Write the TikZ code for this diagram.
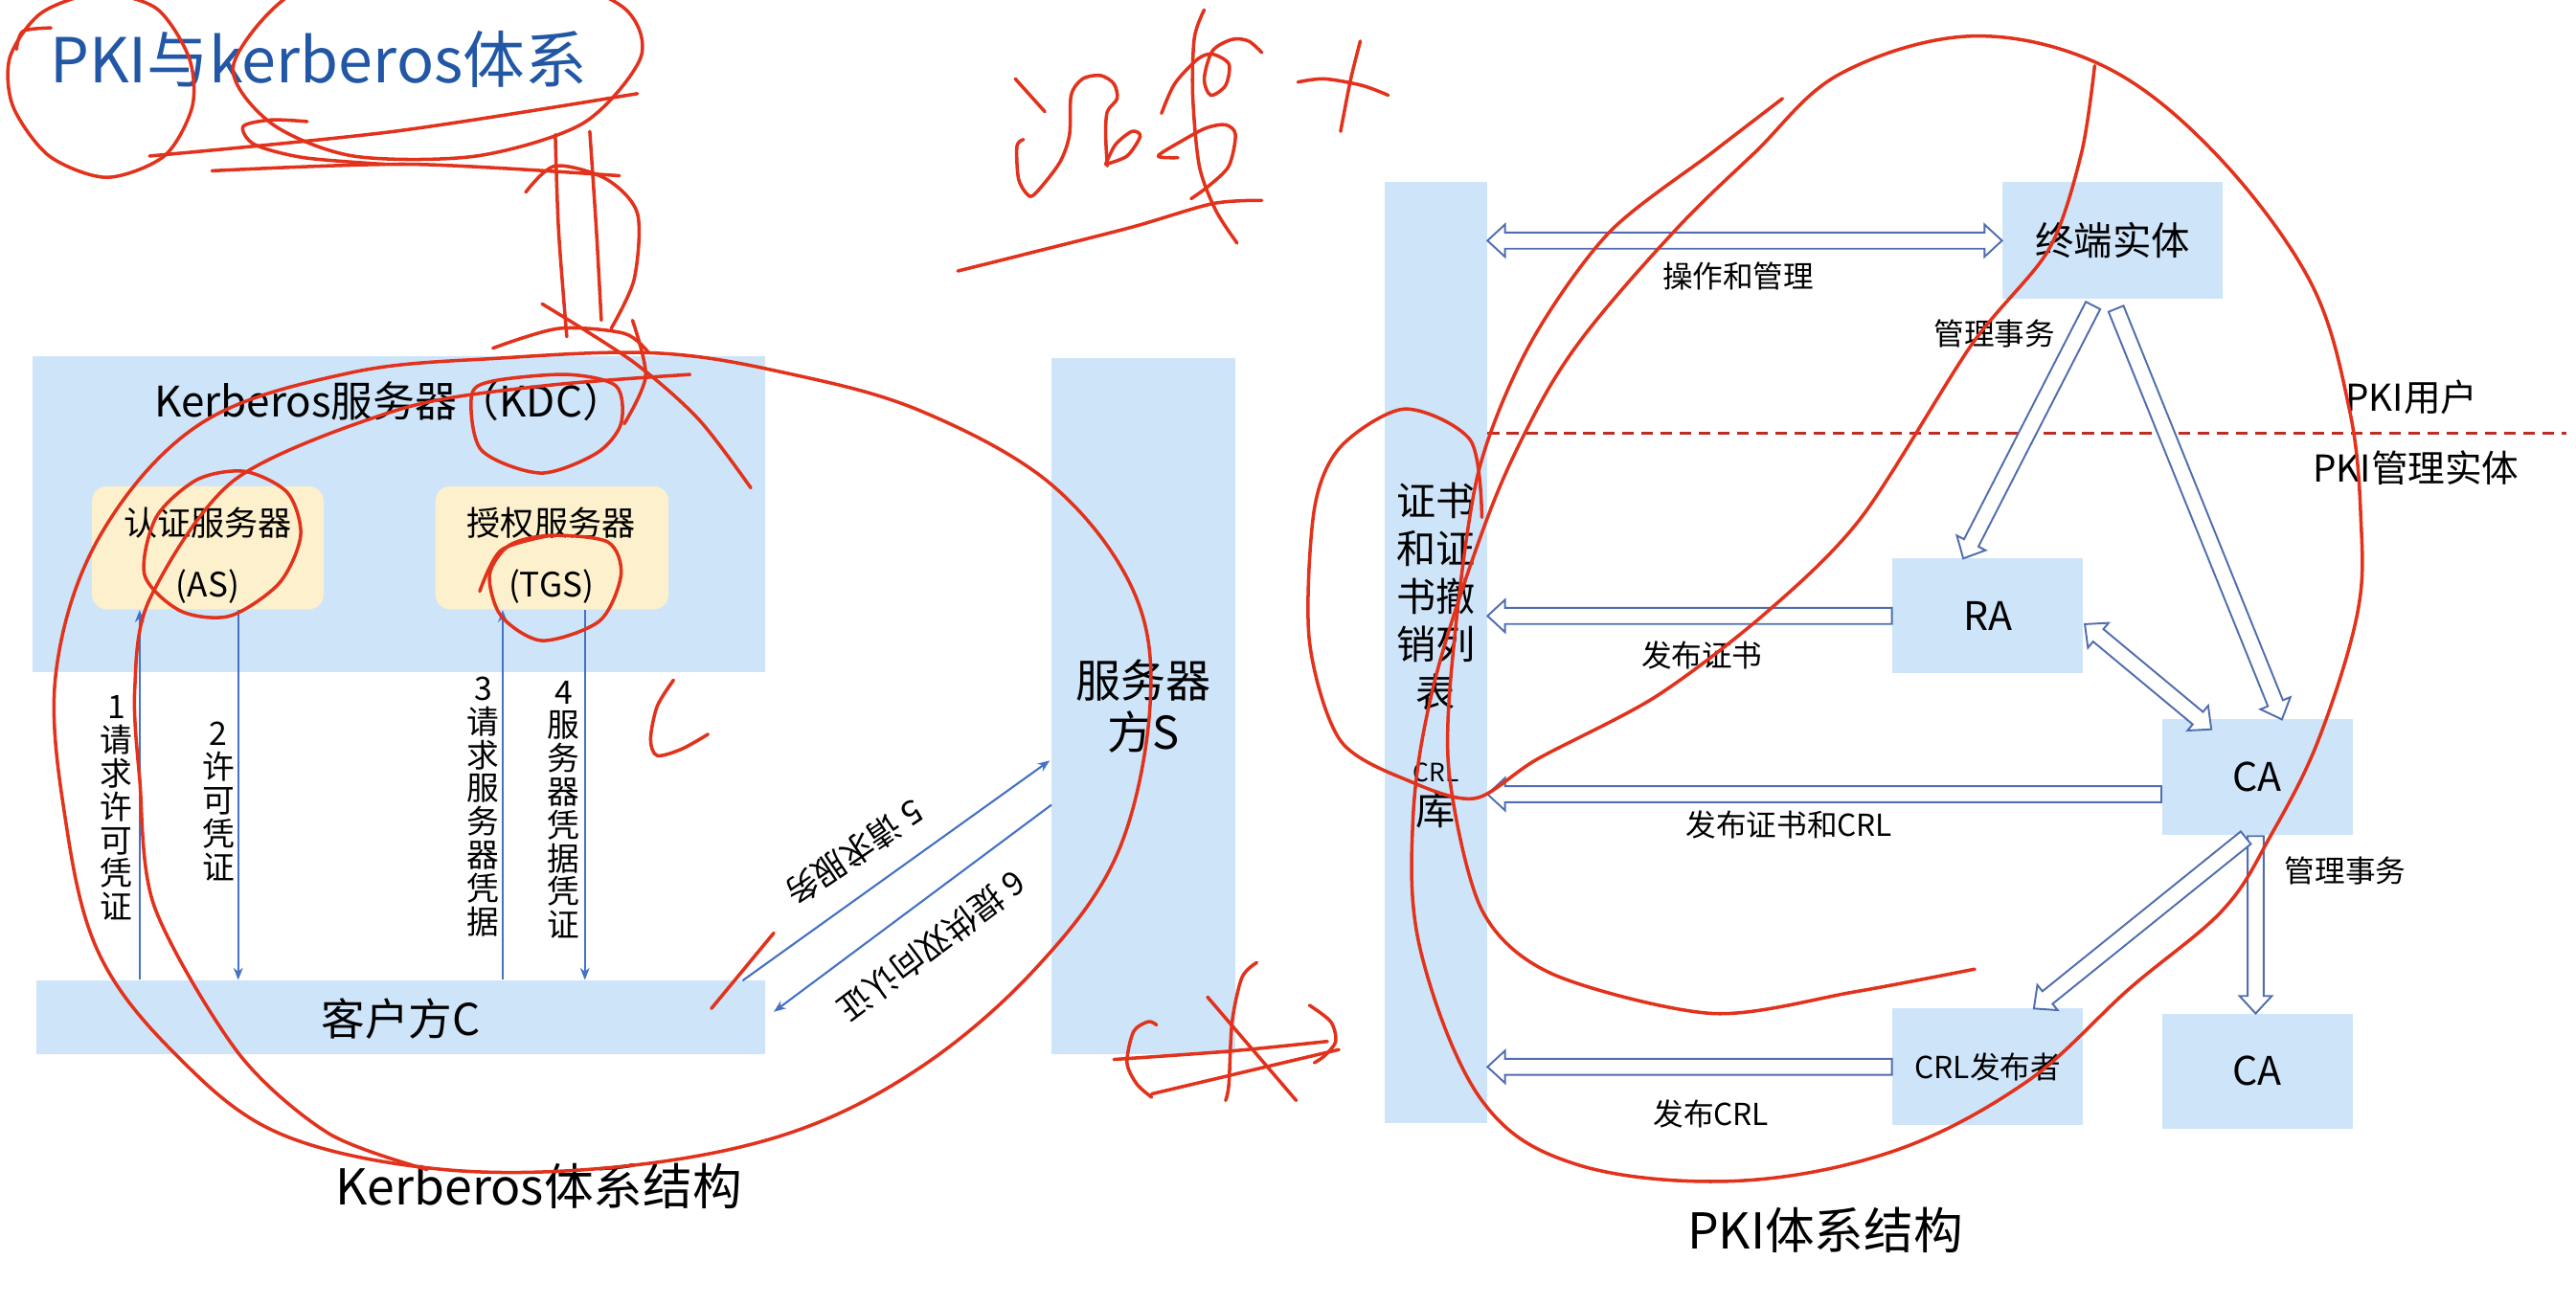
\documentclass[tikz,border=0pt]{standalone}
\usepackage{fontspec}
\setmainfont{Noto Sans CJK SC}
\usetikzlibrary{calc,fit,arrows.meta}
\definecolor{boxblue}{RGB}{206,228,249}
\definecolor{boxyellow}{RGB}{253,241,205}
\definecolor{lineblue}{RGB}{68,114,196}
\definecolor{hollowblue}{RGB}{80,110,175}
\definecolor{titleblue}{RGB}{33,87,165}
\definecolor{penred}{RGB}{226,50,28}
\definecolor{dashred}{RGB}{190,45,35}
\newcommand{\fsz}[2]{\fontsize{#1pt}{#2pt}\selectfont}
\def\baSW{2.4pt}\def\baHW{4.8pt}\def\baHL{5.2pt}
\newcommand{\barrow}[2]{%
  \coordinate (ba-n) at ($(#2)!\baHL!(#1)$);
  \filldraw[hollow] ($(#1)!\baSW!90:(#2)$) -- ($(ba-n)!\baSW!90:(#2)$) -- ($(ba-n)!\baHW!90:(#2)$) -- (#2) -- ($(ba-n)!\baHW!-90:(#2)$) -- ($(ba-n)!\baSW!-90:(#2)$) -- ($(#1)!\baSW!-90:(#2)$) -- cycle;}
\newcommand{\dbarrow}[2]{%
  \coordinate (ba-n) at ($(#2)!\baHL!(#1)$);
  \coordinate (ba-m) at ($(#1)!\baHL!(#2)$);
  \filldraw[hollow] (#1) -- ($(ba-m)!\baHW!90:(#2)$) -- ($(ba-m)!\baSW!90:(#2)$) -- ($(ba-n)!\baSW!90:(#2)$) -- ($(ba-n)!\baHW!90:(#2)$) -- (#2) -- ($(ba-n)!\baHW!-90:(#2)$) -- ($(ba-n)!\baSW!-90:(#2)$) -- ($(ba-m)!\baSW!-90:(#2)$) -- ($(ba-m)!\baHW!-90:(#2)$) -- cycle;}
\tikzset{
  bluebox/.style={fill=boxblue, draw=none, inner sep=0pt},
  ybox/.style={fill=boxyellow, draw=none, rounded corners=4.5pt, inner sep=0pt},
  hollow/.style={draw=hollowblue, fill=white, line width=0.55pt, line join=miter},
  thinarr/.style={draw=lineblue, line width=0.6pt, -{Stealth[length=3.6pt,width=2.8pt]}},
  redpen/.style={draw=penred, line width=1pt, line cap=round, line join=round},
  txt/.style={inner sep=0pt, align=center},
  lbl/.style={inner sep=0pt, font=\fsz{9}{11}},
  vlbl/.style={inner sep=0pt, align=center, font=\fsz{9.6}{9.9}},
  dashline/.style={draw=dashred, line width=0.85pt, dash pattern=on 3.5pt off 2.2pt},
}
\begin{document}
\begin{tikzpicture}[x=0.171556mm, y=-0.171556mm]
\fill[white] (0,0) rectangle (1568,794);
\path[use as bounding box] (0,0) rectangle (1568,794);

% ---------------- title
\node[anchor=west, inner sep=0pt, text=titleblue, font=\fsz{18.4}{20}] (title) at (30,36) {PKI与kerberos体系};

% ---------------- Kerberos
\node[bluebox, fit={(20,217) (466,409)}] (kdc) {};
\node[txt, font=\fsz{12.5}{14}] (kdct) at (237,244) {Kerberos服务器（KDC）};
\node[ybox, fit={(56,296) (197,371)}] (as) {};
\node[txt, font=\fsz{10}{18.3}] (ast) at (126.5,338) {认证服务器\\(AS)};
\node[ybox, fit={(265,296) (407,371)}] (tgs) {};
\node[txt, font=\fsz{10}{18.3}] (tgst) at (335.5,338) {授权服务器\\(TGS)};
\node[bluebox, fit={(22,597) (466,642)}] (client) {};
\node[txt, font=\fsz{13}{15}] (clientt) at (244,620) {客户方C};
\node[bluebox, fit={(640,218) (752,642)}] (server) {};
\node[txt, font=\fsz{13.4}{15.6}] (servert) at (696,430) {服务器\\方S};

\coordinate (x1) at (85,0);
\coordinate (x2) at (145,0);
\coordinate (x3) at (306,0);
\coordinate (x4) at (356,0);
\draw[thinarr] (x1 |- client.north) -- (x1 |- as.south);
\draw[thinarr] (x2 |- as.south) -- (x2 |- client.north);
\draw[thinarr] (x3 |- client.north) -- (x3 |- tgs.south);
\draw[thinarr] (x4 |- tgs.south) -- (x4 |- client.north);
\coordinate (c5) at (452,597);
\coordinate (s5) at (639,463);
\coordinate (s6) at (640,490);
\coordinate (c6) at (471,616);
\draw[thinarr] (c5) -- (s5);
\draw[thinarr] (s6) -- (c6);

\node[vlbl] (l1) at (71,492) {1\\请\\求\\许\\可\\凭\\证};
\node[vlbl] (l2) at (133,488) {2\\许\\可\\凭\\证};
\node[vlbl] (l3) at (294,491) {3\\请\\求\\服\\务\\器\\凭\\据};
\node[vlbl] (l4) at (343,493) {4\\服\\务\\器\\凭\\据\\凭\\证};
\node[lbl, font=\fsz{9.8}{11}, rotate=214] (l5) at (520,519) {5 请求服务};
\node[lbl, font=\fsz{9.8}{11}, rotate=217] (l6) at (567,576) {6 提供双向认证};

\node[txt, font=\fsz{14.7}{16}] (capk) at (328,722) {Kerberos体系结构};

% ---------------- PKI
\node[bluebox, fit={(843,111) (905,684)}] (bar) {};
\node[txt, font=\fsz{11.7}{14.2}] (bart) at (874,399) {证书\\和证\\书撤\\销列\\表\\[8pt]{\fsz{7.5}{9}CRL}\\[-1.5pt]库};
\node[bluebox, fit={(1219,111) (1353,182)}] (eu) {};
\node[txt, font=\fsz{11.5}{14}] (eut) at (eu.center) {终端实体};
\node[bluebox, fit={(1152,340) (1268,410)}] (ra) {};
\node[txt, font=\fsz{11.7}{14}] (rat) at (ra.center) {RA};
\node[bluebox, fit={(1316,438) (1432,508)}] (ca1) {};
\node[txt, font=\fsz{11.7}{14}] (ca1t) at (ca1.center) {CA};
\node[bluebox, fit={(1152,614) (1268,685)}] (crl) {};
\node[txt, font=\fsz{9}{11}] (crlt) at (crl.center) {CRL发布者};
\node[bluebox, fit={(1316,617) (1432,687)}] (ca2) {};
\node[txt, font=\fsz{11.7}{14}] (ca2t) at (ca2.center) {CA};

\coordinate (dr) at (1562,263.5);
\draw[dashline] (bar.east |- dr) -- (dr);

\coordinate (bt1) at (bar.east |- eu.west);
\dbarrow{bt1}{eu.west}
\coordinate (b2) at (bar.east |- ra.west);
\barrow{ra.west}{b2}
\coordinate (c3s) at ($(ca1.west)+(0,10.5)$);
\coordinate (b3) at (bar.east |- c3s);
\barrow{c3s}{b3}
\coordinate (b4) at (bar.east |- crl.west);
\barrow{crl.west}{b4}
\coordinate (e1) at (1274,186);
\coordinate (r1) at (1195,340);
\barrow{e1}{r1}
\coordinate (e2) at (1288,188);
\coordinate (k1) at (1389,438);
\barrow{e2}{k1}
\coordinate (r2) at (1269,380);
\coordinate (k2) at (1346,444);
\dbarrow{r2}{k2}
\coordinate (k4) at (1373,509);
\coordinate (k5) at (1373,617);
\barrow{k4}{k5}
\coordinate (k3) at (1367,510);
\coordinate (cr1) at (1238,614);
\barrow{k3}{cr1}

\node[lbl] (lops) at (1058,168) {操作和管理};
\node[lbl] (lmg1) at (1214,203) {管理事务};
\node[lbl] (lpub1) at (1036,399) {发布证书};
\node[lbl] (lpub2) at (1089,502) {发布证书和CRL};
\node[lbl] (lpub3) at (1041.5,678) {发布CRL};
\node[lbl] (lmg2) at (1427.5,530) {管理事务};
\node[txt, font=\fsz{11}{13}] (lusr) at (1468,242) {PKI用户};
\node[txt, font=\fsz{11}{13}] (lmgr) at (1470.6,284.6) {PKI管理实体};
\node[txt, font=\fsz{14.7}{16}] (capp) at (1111,749) {PKI体系结构};

% ---------------- handwritten red annotations
\begin{scope}
\clip (0,0) rectangle (1568,794);
\draw[redpen] plot[smooth cycle] coordinates {(60,-4) (95,5) (115,35) (117,65) (100,95) (65,108) (30,95) (8,65) (6,35) (25,8)};
\draw[redpen] plot[smooth] coordinates {(10,30) (14,19) (31,17)};
\draw[redpen] plot[smooth cycle] coordinates {(142,40) (165,75) (215,95) (290,95) (355,75) (390,35) (380,5) (330,-15) (250,-15) (180,-5)};
\draw[redpen] plot[smooth] coordinates {(91,95) (240,80) (388,57)};
\draw[redpen] plot[smooth] coordinates {(129,104) (250,100) (377,107)};
\draw[redpen] plot[smooth] coordinates {(187,74) (165,73) (148,77) (155,88) (185,96) (234,100)};
\draw[redpen] plot[smooth] coordinates {(338,82) (340,140) (345,205)};
\draw[redpen] plot[smooth] coordinates {(359,80) (363,140) (366,195)};
\draw[redpen] plot[smooth] coordinates {(320,117) (338,101) (369,109) (388,130) (386,170) (372,200)};
\draw[redpen] plot[smooth] coordinates {(300,212) (340,200) (380,203) (395,215)};
\draw[redpen] plot[smooth] coordinates {(385,195) (393,229) (380,258)};
\draw[redpen] plot[smooth cycle] coordinates {(287,241) (293,274) (329,288) (363,276) (378,258) (375,235) (345,228) (300,232)};
\draw[redpen] plot[smooth cycle] coordinates {(149,287) (175,300) (183,326) (170,355) (140,375) (110,372) (88,350) (95,315) (120,292)};
\draw[redpen] plot[smooth cycle] coordinates {(335,326) (370,330) (378,350) (365,378) (330,390) (305,375) (298,350) (310,332)};
\draw[redpen] plot[smooth] coordinates {(292,360) (305,335) (335,326)};
\draw[redpen] plot[smooth cycle, tension=0.6] coordinates {(400,215) (305,218) (213,227) (122,258) (61,326) (34,410) (40,500) (60,580) (106,641) (170,690) (270,712) (380,710) (480,690) (560,650) (630,590) (680,520) (700,430) (690,360) (640,295) (560,250) (478,227)};
\draw[redpen] plot[smooth] coordinates {(420,228) (330,235) (244,249) (143,292) (91,365) (82,420) (85,474) (94,552) (145,641) (200,690) (260,712)};
\draw[redpen] plot[smooth] coordinates {(330,185) (385,220) (425,255) (457,297)};
\draw[redpen] plot[smooth] coordinates {(410,414) (400,430) (396,450) (400,460) (415,456) (431,447)};
\draw[redpen] plot[smooth] coordinates {(471,568) (433,614)};
\draw[redpen] plot[smooth] coordinates {(704,624) (699,622) (690,628) (686,647) (692,660) (701,668)};
\draw[redpen] plot[smooth] coordinates {(678,645) (748,640) (808,634)};
\draw[redpen] plot[smooth] coordinates {(701,666) (760,652) (815,639)};
\draw[redpen] plot[smooth] coordinates {(765,586) (756,595) (750,622) (748,660) (746,670)};
\draw[redpen] plot[smooth] coordinates {(735,607) (789,670)};
\draw[redpen] plot[smooth] coordinates {(797,612) (810,622) (813,634) (806,643) (800,647)};
\draw[redpen] plot[smooth] coordinates {(618,48) (636,68)};
\draw[redpen] plot[smooth] coordinates {(623,85) (619,89) (620,109) (626,119) (631,117) (645,99) (651,82) (652,58) (659,48) (670,46) (678,51) (680,60) (674,68) (673,82) (674,101)};
\draw[redpen] plot[smooth] coordinates {(673,100) (686,95) (694,83) (689,80) (679,88) (673,100)};
\draw[redpen] plot[smooth] coordinates {(733,6) (727,23) (726,58) (730,101) (740,128) (753,148)};
\draw[redpen] plot[smooth] coordinates {(707,69) (715,51) (729,36) (738,33) (748,39) (746,52) (737,58) (733,48) (738,31) (750,24) (760,25) (768,32)};
\draw[redpen] plot[smooth] coordinates {(717,96) (705,95) (719,86) (734,78) (746,76) (752,82) (748,101) (736,113) (725,121)};
\draw[redpen] plot[smooth] coordinates {(583,165) (631,153) (690,138) (738,124) (768,122)};
\draw[redpen] plot[smooth] coordinates {(828,25) (822,49) (816,80)};
\draw[redpen] plot[smooth] coordinates {(790,50) (806,48) (829,52) (845,58)};
\draw[redpen] plot[smooth cycle, tension=0.6] coordinates {(1068,93) (1018,142) (960,210) (926,268) (900,330) (872,420) (860,500) (865,580) (902,670) (960,709) (1056,719) (1152,701) (1233,659) (1296,602) (1353,554) (1382,509) (1411,451) (1435,373) (1437,315) (1430,249) (1406,171) (1348,93) (1280,40) (1200,22) (1120,45)};
\draw[redpen] plot[smooth] coordinates {(1085,60) (1042,93) (979,142) (931,210) (900,287) (885,392) (882,470) (902,554) (945,593) (1042,617) (1128,604) (1202,590)};
\draw[redpen] plot[smooth] coordinates {(1275,40) (1267,93) (1247,152) (1200,210) (1133,315) (1075,373) (1008,424) (936,462) (898,486) (859,476) (816,451) (797,390) (800,310) (816,272) (855,249) (895,268) (902,315)};
\end{scope}
\end{tikzpicture}
\end{document}
